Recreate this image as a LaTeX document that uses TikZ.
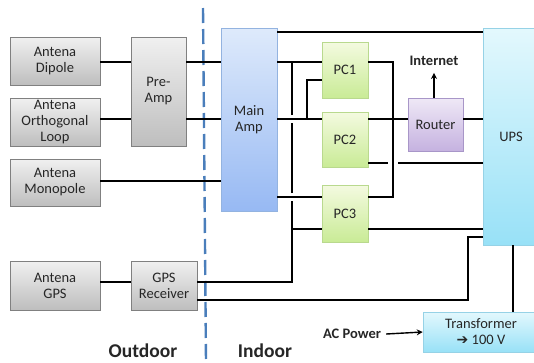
\documentclass[tikz,border=0pt]{standalone}
\usepackage{fontspec}
\setmainfont{Carlito}
\newfontfamily\dejavu{DejaVu Sans}
\usetikzlibrary{arrows.meta,shadows,calc}
\definecolor{txt}{HTML}{262626}
\definecolor{grayt}{HTML}{F0F0F0}
\definecolor{grayb}{HTML}{BEBEBE}
\definecolor{grayd}{HTML}{808080}
\definecolor{bluet}{HTML}{DEEAFB}
\definecolor{blueb}{HTML}{97B9F3}
\definecolor{blued}{HTML}{93B3E0}
\definecolor{greent}{HTML}{F4FAE0}
\definecolor{greenb}{HTML}{C9EB96}
\definecolor{greend}{HTML}{B9D98E}
\definecolor{lavt}{HTML}{EFE8F6}
\definecolor{lavb}{HTML}{C5B2E0}
\definecolor{lavd}{HTML}{A896C8}
\definecolor{cyant}{HTML}{E3F8FD}
\definecolor{cyanb}{HTML}{98E1F7}
\definecolor{cyand}{HTML}{96D2E6}
\definecolor{dashblue}{HTML}{4A7EBB}
\begin{document}
\begin{tikzpicture}[x=1pt,y=-1pt,
  box/.style={draw, line width=0.6pt, inner sep=0pt, align=center, text=txt,
    font=\fontsize{14.5}{16}\selectfont,
    drop shadow={shadow xshift=1pt,shadow yshift=-1.2pt,opacity=0.22}},
  graybox/.style={box, draw=grayd, top color=grayt, bottom color=grayb},
  bluebox/.style={box, draw=blued, top color=bluet, bottom color=blueb},
  greenbox/.style={box, draw=greend, top color=greent, bottom color=greenb},
  lavbox/.style={box, draw=lavd, top color=lavt, bottom color=lavb},
  cyanbox/.style={box, draw=cyand, top color=cyant, bottom color=cyanb},
  wire/.style={line width=1.4pt, black},
  arr/.style={wire, -{Stealth[length=6pt,width=6pt]}},
  lbl/.style={font=\fontsize{14.5}{16}\selectfont\bfseries, text=txt, inner sep=1pt},
  biglbl/.style={font=\fontsize{19.5}{22}\selectfont\bfseries, text=txt, inner sep=0pt, anchor=base},
]
\useasboundingbox (0,0) rectangle (534,362);
\clip (0,0) rectangle (534,362);
\fill[white] (0,0) rectangle (534,362);

% boxes
\node[graybox, minimum width=90, minimum height=48] (dip) at (55,61) {Antena\\Dipole};
\node[graybox, minimum width=90, minimum height=48] (loop) at (55,122) {Antena\\Orthogonal\\Loop};
\node[graybox, minimum width=90, minimum height=47] (mono) at (55,182.5) {Antena\\Monopole};
\node[graybox, minimum width=90, minimum height=49] (gps) at (55,285.5) {Antena\\GPS};
\node[graybox, minimum width=55, minimum height=109] (pre) at (158.5,91.5) {Pre-\\Amp};
\node[graybox, minimum width=66, minimum height=49] (rcv) at (164,285.5) {GPS\\Receiver};
\node[bluebox, minimum width=56, minimum height=183] (main) at (249,119.5) {Main\\Amp};
\node[greenbox, minimum width=46, minimum height=56] (pc1) at (345,70) {PC1};
\node[greenbox, minimum width=46, minimum height=55] (pc2) at (345,139.5) {PC2};
\node[greenbox, minimum width=46, minimum height=57] (pc3) at (345,213.5) {PC3};
\node[lavbox, minimum width=55, minimum height=53] (router) at (435.5,124.5) {Router};
\node[cyanbox, minimum width=56, minimum height=217] (ups) at (511,136.5) {UPS};
\node[cyanbox, minimum width=116, minimum height=40] (trans) at (481,332) {Transformer\\{\dejavu\fontsize{14}{16}\selectfont\bfseries ➔} 100 V};

% labels
\node[lbl] (inet) at (434,61) {Internet};
\node[lbl] (ac) at (352,334) {AC Power};
\node[biglbl] (out) at (143,357) {Outdoor};
\node[biglbl] (in) at (265,357) {Indoor};

% dashed divider
\coordinate (dtop) at (203,8);
\coordinate (dbot) at (206,362);
\draw[dashblue, line width=2.4pt, dash pattern=on 15pt off 6pt] (dtop) -- (dbot);

% level coordinates
\coordinate (y32) at (0,32);
\coordinate (y62) at (0,62);
\coordinate (y80) at (0,80);
\coordinate (y119) at (0,119);
\coordinate (y163) at (0,163);
\coordinate (y181) at (0,181);
\coordinate (y197) at (0,197);
\coordinate (y229) at (0,229);
\coordinate (y237) at (0,237);
\coordinate (y282) at (0,282);
\coordinate (y300) at (0,300);
\coordinate (xa) at (292,0);
\coordinate (xb) at (307,0);
\coordinate (xc) at (393,0);
\coordinate (xd) at (468,0);
\coordinate (xe) at (513,0);

% wires
\draw[wire] (dip.east |- y62) -- (pre.west |- y62);
\draw[wire] (pre.east |- y62) -- (main.west |- y62);
\draw[wire] (loop.east |- y119) -- (pre.west |- y119);
\draw[wire] (pre.east |- y119) -- (main.west |- y119);
\draw[wire] (mono.east |- y181) -- (main.west |- y181);
\draw[wire] (gps.east |- y282) -- (rcv.west |- y282);
\draw[wire] (main.east |- y32) -- (ups.west |- y32);
\draw[wire] (main.east |- y62) -- (pc1.west |- y62);
\draw[wire] (main.east |- y119) -- (pc2.west |- y119);
\draw[wire] (main.east |- y197) -- (pc3.west |- y197);
% GPS bus with hops
\draw[wire] (rcv.east |- y282) -- (xa |- y282) -- ($(xa |- y197)+(0,4)$);
\draw[wire] ($(xa |- y197)+(0,-4)$) -- ($(xa |- y119)+(0,4)$);
\draw[wire] ($(xa |- y119)+(0,-4)$) -- (xa |- y62);
\draw[wire] (xa |- y229) -- (pc3.west |- y229);
\draw[wire] (pc3.east |- y229) -- (ups.west |- y229);
\draw[wire] (xb |- y119) -- (xb |- y80) -- (pc1.west |- y80);
% PC to router bus
\draw[wire] (pc1.east |- y62) -- (xc |- y62) -- (xc |- y197) -- (pc3.east |- y197);
\draw[wire] (pc2.east |- y119) -- (router.west |- y119);
\draw[wire] (router.east |- y119) -- (ups.west |- y119);
\draw[wire] (pc2.east |- y163) -- ($(xc |- y163)+(-5,0)$);
\draw[wire] ($(xc |- y163)+(5,0)$) -- (ups.west |- y163);
\draw[wire] (rcv.east |- y300) -- (xd |- y300) -- (xd |- y237) -- (ups.west |- y237);
\draw[wire] (ups.south -| xe) -- (trans.north -| xe);
% arrows
\draw[arr] (router.north -| inet) -- ($(inet.south)+(0,6)$);
\draw[arr] ($(ac.east)+(4,0)$) -- (trans.west);
\end{tikzpicture}
\end{document}
